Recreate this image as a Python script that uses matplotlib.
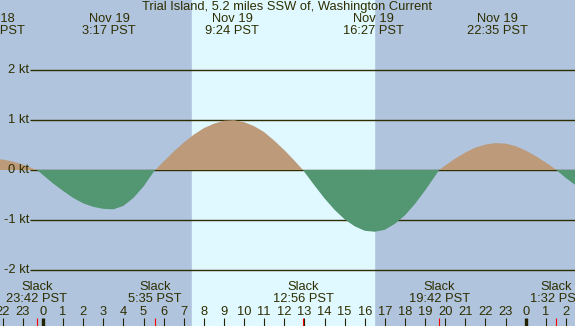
import numpy as np
import matplotlib
matplotlib.use("Agg")
import matplotlib.pyplot as plt

plt.rcParams['font.family'] = ['Liberation Sans', 'DejaVu Sans']

# hours since midnight Nov 19 (negative = Nov 18), current speed in knots
hours = [-2.5, -2.0, -1.5, -1.0, -0.5, -0.3, 0.0, 0.5, 1.0, 1.5, 2.0, 2.5, 3.0, 3.5,
         4.0, 4.5, 5.0, 5.5, 5.58, 6.0, 6.5, 7.0, 7.5, 8.0, 8.5, 9.0, 9.5, 10.0,
         10.5, 11.0, 11.5, 12.0, 12.5, 12.93, 13.0, 13.5, 14.0, 14.5, 15.0, 15.5,
         16.0, 16.5, 17.0, 17.5, 18.0, 18.5, 19.0, 19.5, 19.7, 20.0, 20.5, 21.0,
         21.5, 22.0, 22.5, 23.0, 23.5, 24.0, 24.5, 25.0, 25.5, 25.53, 26.0, 26.5]
speeds = [0.22, 0.21, 0.17, 0.11, 0.03, 0.0, -0.10, -0.27, -0.42, -0.56, -0.67, -0.74, -0.78, -0.79,
          -0.72, -0.56, -0.33, -0.04, 0.0, 0.17, 0.37, 0.55, 0.71, 0.84, 0.93, 0.99, 1.00, 0.96,
          0.88, 0.76, 0.59, 0.40, 0.19, 0.0, -0.04, -0.31, -0.57, -0.80, -0.99, -1.13,
          -1.22, -1.24, -1.20, -1.08, -0.91, -0.68, -0.41, -0.12, 0.0, 0.09, 0.23, 0.35,
          0.45, 0.51, 0.54, 0.53, 0.48, 0.39, 0.28, 0.15, 0.01, 0.0, -0.16, -0.31]

max_times = [-2.4, 3.28, 9.4, 16.45, 22.58]
max_labels = ["Nov 18\n21:37 PST", "Nov 19\n3:17 PST", "Nov 19\n9:24 PST",
              "Nov 19\n16:27 PST", "Nov 19\n22:35 PST"]
slack_times = [-0.3, 5.58, 12.93, 19.7, 25.53]
slack_labels = ["Slack\n23:42 PST", "Slack\n5:35 PST", "Slack\n12:56 PST",
                "Slack\n19:42 PST", "Slack\n1:32 PST"]
sunrise, sunset = 7.41, 16.46
kt_levels = [2, 1, 0, -1, -2]

night = '#B0C4DE'
day = '#E0F8FF'
flood = '#BC9A7A'
ebb = '#529672'
ink = '#2E2E00'

W, H = 575, 326
px_hr = 20.11
x_zero = 43
y_zero = 170
px_kt = 49.8
fs = 9.3

fig = plt.figure(figsize=(W / 100, H / 100), dpi=100, facecolor=night)
ax = fig.add_axes([0, 0, 1, 1])
xlo, xhi = -x_zero / px_hr, (W - x_zero) / px_hr
ax.set_xlim(xlo, xhi)
ax.set_ylim(-(H - y_zero) / px_kt, y_zero / px_kt)
ax.axis('off')

ax.axvspan(xlo, xhi, color=night, zorder=0)
ax.axvspan(sunrise, sunset, color=day, zorder=0)

line_start = (30 - x_zero) / px_hr
ax.hlines(kt_levels, line_start, xhi, color=ink, lw=1.0, zorder=1)
for k in kt_levels:
    ax.text(line_start - 0.05, k, f"{k} kt", ha='right', va='center',
            fontsize=fs, color=ink)

h = np.array(hours)
s = np.array(speeds)
ax.fill_between(h, 0, s, where=s >= 0, interpolate=True, color=flood, lw=0, zorder=2)
ax.fill_between(h, 0, s, where=s <= 0, interpolate=True, color=ebb, lw=0, zorder=2)

tr = ax.get_xaxis_transform()
ax.text(0.5, 1 - 7 / H, "Trial Island, 5.2 miles SSW of, Washington Current",
        transform=ax.transAxes, ha='center', va='center', fontsize=fs, color=ink)
for t, lab in zip(max_times, max_labels):
    ax.text(t, 1 - 25.5 / H, lab, transform=tr, ha='center', va='center',
            fontsize=fs, color=ink, linespacing=1.0)
for t, lab in zip(slack_times, slack_labels):
    ax.text(t, 1 - 293.5 / H, lab, transform=tr, ha='center', va='center',
            fontsize=fs, color=ink, linespacing=1.0)

# hour ticks
for hr in range(-2, 27):
    ax.text(hr, 1 - 312 / H, str(hr % 24), transform=tr, ha='center', va='center',
            fontsize=fs, color=ink)
    lw = 2.4 if hr % 24 == 0 else 0.8
    ax.vlines(hr, 0, 8 / H, transform=tr, color='#222200', lw=lw, zorder=3)
ax.vlines(slack_times, 0, 8 / H, transform=tr, color='red', lw=0.8, zorder=3)

fig.savefig("out.png", dpi=100, facecolor=night)
